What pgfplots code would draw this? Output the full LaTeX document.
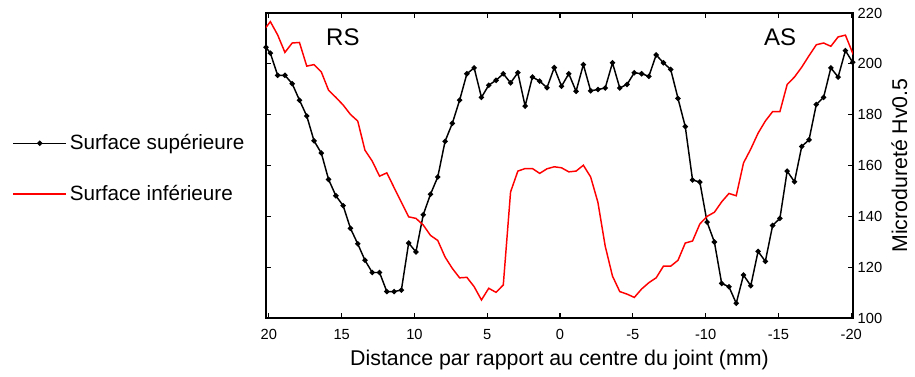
\documentclass[border=0pt]{standalone}
\usepackage{pgfplots}
\pgfplotsset{compat=1.18}
\usepackage{fontspec}
\setmainfont{Liberation Sans}

\begin{document}
\begin{tikzpicture}
\useasboundingbox (-199.5pt,-43.5pt) rectangle (486.75pt,238.5pt);
\begin{axis}[
  at={(0,0)}, anchor=south west,
  scale only axis, width=440.25pt, height=228.75pt,
  x dir=reverse, xmin=-20.12, xmax=20.2, ymin=100, ymax=220,
  xtick={-20,-15,...,20}, ytick={100,120,...,220},
  yticklabel pos=right, ylabel near ticks,
  /pgf/number format/assume math mode=true,
  ticklabel style={font=\fontsize{11}{13}\selectfont},
  xticklabel shift=5pt,
  label style={font=\fontsize{16}{19}\selectfont},
  xlabel style={yshift=-1pt},
  xlabel={Distance par rapport au centre du joint (mm)},
  ylabel={Microdureté Hv0.5},
  axis line style={line width=1.2pt},
  major tick length=4pt,
  tick style={black, line width=0.9pt},
  legend style={draw=none, fill=none, at={(-0.025,0.49)}, anchor=east,
    font=\fontsize{15.5}{18}\selectfont, row sep=21pt, cells={anchor=west}},
  legend image code/.code={\draw[mark repeat=2,mark phase=2] plot coordinates {(0pt,0pt) (20pt,0pt) (40pt,0pt)};},
]
\addplot[black, line width=1.1pt, mark=*, mark size=1.4pt] coordinates {
(20.2,206.5) (19.9,204.2) (19.4,195.5) (18.9,195.5) (18.4,192.2) (17.9,185.7)
(17.4,179.5) (16.9,169.7) (16.4,164.9) (15.9,154.5) (15.4,148.1) (14.9,144.2)
(14.4,135.3) (13.9,129.2) (13.4,122.7) (12.9,117.9) (12.4,117.9) (11.9,110.4)
(11.4,110.4) (10.9,111.0) (10.4,129.5) (9.9,126.0) (9.4,140.6) (8.9,148.7)
(8.4,155.5) (7.9,169.5) (7.4,176.6) (6.9,185.7) (6.4,196.1) (5.9,198.4)
(5.4,186.8) (4.9,191.6) (4.4,193.5) (3.9,196.1) (3.4,192.5) (2.9,196.5)
(2.4,183.4) (1.9,194.8) (1.4,193.2) (0.9,190.6) (0.4,198.5) (-0.1,191.2)
(-0.6,196.1) (-1.1,189.2) (-1.6,199.7) (-2.1,189.4) (-2.6,189.9) (-3.1,190.5)
(-3.6,200.4) (-4.1,190.5) (-4.6,191.9) (-5.1,196.5) (-5.6,196.1) (-6.1,195.1)
(-6.6,203.5) (-7.1,200.4) (-7.6,197.8) (-8.1,186.4) (-8.6,175.3) (-9.1,154.3)
(-9.6,153.5) (-10.1,137.7) (-10.6,129.9) (-11.1,113.6) (-11.6,112.3) (-12.1,105.8)
(-12.6,116.9) (-13.1,112.7) (-13.6,126.2) (-14.1,122.3) (-14.6,136.4) (-15.1,139.2)
(-15.6,157.8) (-16.1,153.6) (-16.6,167.5) (-17.1,170.1) (-17.6,184.0) (-18.1,186.8)
(-18.6,198.4) (-19.1,194.8) (-19.6,205.2) (-20.1,200.6)
};
\addlegendentry{Surface supérieure}
\addplot[red, line width=1.1pt, mark=none] coordinates {
(20.3,213.6) (19.9,216.6) (19.4,211.4) (18.9,204.5) (18.4,208.2) (17.9,208.4)
(17.4,199.1) (16.9,199.7) (16.4,196.8) (15.9,189.6) (15.4,186.8) (14.9,183.8)
(14.4,180.1) (13.9,177.5) (13.4,166.0) (12.9,161.7) (12.4,155.8) (11.9,157.1)
(11.4,151.3) (10.9,145.5) (10.4,139.8) (9.9,139.2) (9.4,136.6) (8.9,132.5)
(8.4,130.5) (7.9,124.0) (7.4,119.5) (6.9,115.8) (6.4,116.0) (5.9,112.3)
(5.4,107.1) (4.9,111.7) (4.4,110.1) (3.9,113.0) (3.4,149.6) (2.9,157.8)
(2.4,158.8) (1.9,158.8) (1.4,156.9) (0.9,158.7) (0.4,159.5) (-0.1,159.1)
(-0.6,157.5) (-1.1,157.8) (-1.6,160.1) (-2.1,155.5) (-2.6,145.5) (-3.1,128.3)
(-3.6,116.5) (-4.1,110.4) (-4.6,109.4) (-5.1,108.1) (-5.6,111.4) (-6.1,113.9)
(-6.6,115.8) (-7.1,120.4) (-7.6,120.4) (-8.1,122.7) (-8.6,129.5) (-9.1,130.3)
(-9.6,137.0) (-10.1,140.0) (-10.6,141.6) (-11.1,145.7) (-11.6,149.0) (-12.1,148.1)
(-12.6,161.0) (-13.1,166.5) (-13.6,172.7) (-14.1,177.5) (-14.6,181.2) (-15.1,181.2)
(-15.6,191.9) (-16.1,194.8) (-16.6,198.7) (-17.1,203.2) (-17.6,207.5) (-18.1,208.2)
(-18.6,206.9) (-19.1,210.6) (-19.6,211.3) (-20.1,204.2) (-20.6,210.0)
};
\addlegendentry{Surface inférieure}
\node[font=\fontsize{18}{20}\selectfont] at (rel axis cs:0.131,0.921) {RS};
\node[font=\fontsize{18}{20}\selectfont] at (rel axis cs:0.876,0.921) {AS};
\end{axis}
\end{tikzpicture}
\end{document}
